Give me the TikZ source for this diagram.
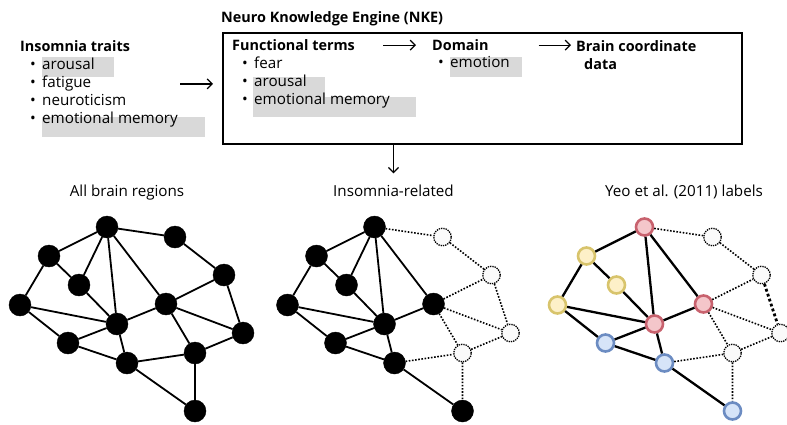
\documentclass[tikz,border=0pt]{standalone}
\usepackage{fontspec}
\setmainfont{Open Sans}
\usepackage{xcolor}
\usepackage{tikz}
\usetikzlibrary{positioning,calc,arrows.meta}

\definecolor{marker}{HTML}{D9D9D9}
\definecolor{redline}{HTML}{C8626E}
\definecolor{redfill}{HTML}{F4C6CA}
\definecolor{yellowline}{HTML}{D8C46C}
\definecolor{yellowfill}{HTML}{FDF0C8}
\definecolor{blueline}{HTML}{6C8CC2}
\definecolor{bluefill}{HTML}{D6E4F8}

\newcommand{\bitem}[1]{\hspace*{10pt}\makebox[12pt][l]{\textbullet}#1}
\newcommand{\headfont}{\fontsize{14.4}{18.2}\selectfont\bfseries}

\tikzset{
  region/.style={circle, draw, fill=black, minimum size=22pt, inner sep=0pt},
  unlinked/.style={circle, draw, densely dotted, line width=1.3pt, fill=gray!4, minimum size=17.5pt, inner sep=0pt},
  yeo/.style={circle, draw=#1line, fill=#1fill, line width=2.6pt, minimum size=17pt, inner sep=0pt},
  link/.style={line width=1.8pt},
  nolink/.style={line width=1.6pt, dash pattern=on 1.6pt off 1.6pt},
  heavylink/.style={line width=2.8pt, dash pattern=on 2.8pt off 2.4pt},
  flow/.style={-{Straight Barb[length=5pt,width=10pt]}, line width=1.2pt},
  listing/.style={anchor=north west, align=left, inner sep=0pt, font=\fontsize{15.2}{18.2}\selectfont},
  head/.style={anchor=base west, inner sep=0pt, font=\headfont},
  caption/.style={anchor=base, inner sep=3pt, font=\fontsize{15.2}{17}\selectfont},
}

\begin{document}
\begin{tikzpicture}[x=1pt, y=-1pt]
    \useasboundingbox (0,0) rectangle (787,424);

    % highlighted terms
    \fill[marker] (42,57) rectangle (114,77);
    \fill[marker] (42,117) rectangle (205,137);
    \fill[marker] (253,77) rectangle (325,97);
    \fill[marker] (253,97) rectangle (416,117);
    \fill[marker] (450,57) rectangle (522,77);

    % traits and NKE
    \node (traits) [listing] at (20,40) {{\headfont Insomnia traits}\\ \bitem{arousal}\\ \bitem{fatigue}\\ \bitem{neuroticism}\\ \bitem{emotional memory}};
    \node (nke) [draw, line width=2pt, anchor=north west, minimum width=519pt, minimum height=111pt, inner sep=0pt] at (222,32) {};
    \node (nketitle) [head] at (221,22.5) {Neuro Knowledge Engine (NKE)};
    \node (funchead) [head] at (232,50.5) {Functional terms};
    \node (funclist) [listing] at (232,56.5) {\bitem{fear}\\ \bitem{arousal}\\ \bitem{emotional memory}};
    \node (domhead) [head] at (432,50.5) {Domain};
    \node (domlist) [listing] at (428,56.5) {\bitem{emotion}};
    \node (coord) [listing, font=\headfont] at (576,40) {Brain coordinate\\ \hspace*{8pt}data};

    \draw[flow, shorten <=2pt, shorten >=9pt] (traits.east) -- (nke.west |- traits.east);
    \draw[flow] ([xshift=28pt]funchead.east) -- ([xshift=-16pt]domhead.west);
    \draw[flow, shorten >=5pt] ([xshift=50pt]domhead.east) -- (coord.west |- domhead.east);

    % captions
    \node (alllabel) [caption] at (127,196) {All brain regions};
    \node (inslabel) [caption] at (393.5,196) {Insomnia-related};
    \node (yeolabel) [caption] at (684,196) {Yeo et al. (2011) labels};
    \draw[flow, shorten >=8pt] (nke.south -| inslabel.north) -- (inslabel.north);

    % all brain regions
    \node (a1) [region] at (107,227) {};
    \node (a2) [region] at (175,237) {};
    \node (a3) [region] at (49,256) {};
    \node (a4) [region] at (79,285) {};
    \node (a5) [region] at (20,305) {};
    \node (a6) [region] at (117,324) {};
    \node (a7) [region] at (166,304) {};
    \node (a8) [region] at (224,275) {};
    \node (a9) [region] at (243,333) {};
    \node (a10) [region] at (68,343) {};
    \node (a11) [region] at (127,363) {};
    \node (a12) [region] at (195,353) {};
    \node (a13) [region] at (195,411) {};
    \draw[link] (a1) -- (a2) (a1) -- (a3) (a1) -- (a4) (a1) -- (a6) (a1) -- (a7)
      (a3) -- (a4) (a3) -- (a5) (a4) -- (a6) (a5) -- (a6) (a5) -- (a10)
      (a10) -- (a6) (a10) -- (a11) (a6) -- (a11) (a6) -- (a7) (a7) -- (a8)
      (a2) -- (a8) (a7) -- (a9) (a8) -- (a9) (a7) -- (a12) (a12) -- (a9)
      (a11) -- (a12) (a12) -- (a13) (a11) -- (a13);

    % insomnia-related
    \begin{scope}[shift={(267.5,0)}]
    \node (i1) [region] at (107,227) {};
    \node (i2) [unlinked] at (175,237) {};
    \node (i3) [region] at (49,256) {};
    \node (i4) [region] at (79,285) {};
    \node (i5) [region] at (20,305) {};
    \node (i6) [region] at (117,324) {};
    \node (i7) [region] at (166,304) {};
    \node (i8) [unlinked] at (224,275) {};
    \node (i9) [unlinked] at (243,333) {};
    \node (i10) [region] at (68,343) {};
    \node (i11) [region] at (127,363) {};
    \node (i12) [unlinked] at (195,353) {};
    \node (i13) [region] at (195,411) {};
    \draw[link] (i1) -- (i3) (i1) -- (i4) (i1) -- (i6) (i1) -- (i7)
      (i3) -- (i4) (i3) -- (i5) (i4) -- (i6) (i5) -- (i6) (i5) -- (i10)
      (i10) -- (i6) (i10) -- (i11) (i6) -- (i11) (i6) -- (i7) (i11) -- (i13);
    \draw[nolink] (i1) -- (i2) (i2) -- (i8) (i7) -- (i8) (i8) -- (i9) (i7) -- (i9)
      (i7) -- (i12) (i12) -- (i9) (i11) -- (i12) (i12) -- (i13);
    \end{scope}

    % Yeo labels
    \begin{scope}[shift={(537.5,0)}, link/.append style={line width=2.3pt}]
    \node (y1) [yeo=red] at (107,227) {};
    \node (y2) [unlinked] at (175,237) {};
    \node (y3) [yeo=yellow] at (49,256) {};
    \node (y4) [yeo=yellow] at (79,285) {};
    \node (y5) [yeo=yellow] at (20,305) {};
    \node (y6) [yeo=red] at (117,324) {};
    \node (y7) [yeo=red] at (166,304) {};
    \node (y8) [unlinked] at (224,275) {};
    \node (y9) [unlinked] at (243,333) {};
    \node (y10) [yeo=blue] at (68,343) {};
    \node (y11) [yeo=blue] at (127,363) {};
    \node (y12) [unlinked] at (195,353) {};
    \node (y13) [yeo=blue] at (195,411) {};
    \draw[link] (y1) -- (y3) (y1) -- (y6) (y1) -- (y7)
      (y3) -- (y4) (y3) -- (y5) (y4) -- (y6) (y5) -- (y6) (y5) -- (y10)
      (y10) -- (y6) (y10) -- (y11) (y6) -- (y11) (y6) -- (y7) (y11) -- (y13);
    \draw[nolink] (y1) -- (y2) (y2) -- (y8) (y7) -- (y8) (y7) -- (y9)
      (y7) -- (y12) (y12) -- (y9) (y11) -- (y12) (y12) -- (y13);
    \draw[heavylink] (y8) -- (y9);
    \end{scope}
\end{tikzpicture}
\end{document}
